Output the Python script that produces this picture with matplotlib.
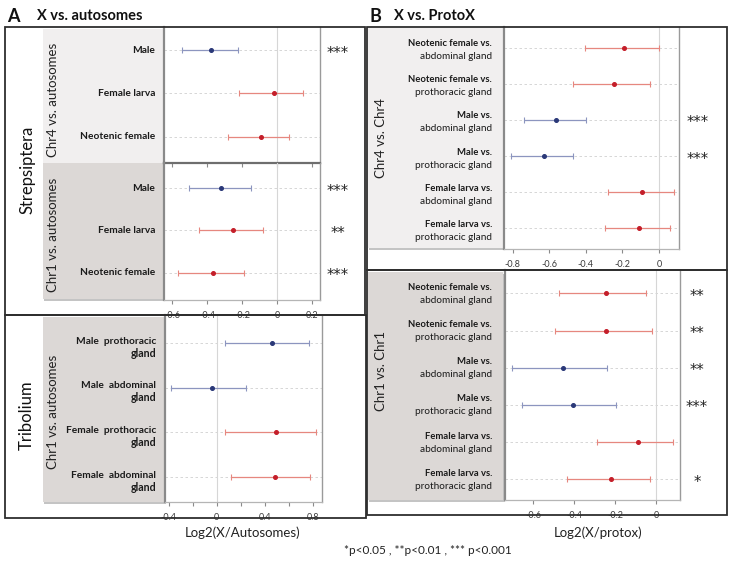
import matplotlib
matplotlib.use('Agg')
import matplotlib.pyplot as plt
from matplotlib.patches import Rectangle
from matplotlib.transforms import blended_transform_factory, offset_copy

plt.rcParams['font.family'] = ['Lato', 'DejaVu Sans']
plt.rcParams['axes.unicode_minus'] = False

# ---------------- data ----------------
a_chr4_labels = ['Male', 'Female larva', 'Neotenic female']
a_chr4_mean = [-0.379, -0.019, -0.095]
a_chr4_low = [-0.546, -0.217, -0.280]
a_chr4_high = [-0.226, 0.149, 0.069]
a_chr4_sex = ['M', 'F', 'F']
a_chr4_sig = ['***', '', '']

a_chr1_labels = ['Male', 'Female larva', 'Neotenic female']
a_chr1_mean = [-0.318, -0.251, -0.367]
a_chr1_low = [-0.503, -0.449, -0.566]
a_chr1_high = [-0.152, -0.080, -0.189]
a_chr1_sex = ['M', 'F', 'F']
a_chr1_sig = ['***', '**', '***']

trib_labels = ['Male  prothoracic\ngland', 'Male  abdominal\ngland',
               'Female  prothoracic\ngland', 'Female  abdominal\ngland']
trib_mean = [0.464, -0.039, 0.497, 0.486]
trib_low = [0.069, -0.383, 0.069, 0.117]
trib_high = [0.772, 0.242, 0.828, 0.778]
trib_sex = ['M', 'M', 'F', 'F']

b_labels = ['Neotenic female vs.\nabdominal gland', 'Neotenic female vs.\nprothoracic gland',
            'Male vs.\nabdominal gland', 'Male vs.\nprothoracic gland',
            'Female larva vs.\nabdominal gland', 'Female larva vs.\nprothoracic gland']
b_sex = ['F', 'F', 'M', 'M', 'F', 'F']

b_chr4_mean = [-0.193, -0.248, -0.562, -0.630, -0.092, -0.107]
b_chr4_low = [-0.407, -0.470, -0.740, -0.808, -0.280, -0.297]
b_chr4_high = [0.000, -0.050, -0.400, -0.470, 0.081, 0.058]
b_chr4_sig = ['', '', '***', '***', '', '']

b_chr1_mean = [-0.245, -0.242, -0.454, -0.404, -0.089, -0.218]
b_chr1_low = [-0.473, -0.494, -0.705, -0.652, -0.288, -0.434]
b_chr1_high = [-0.050, -0.022, -0.239, -0.193, 0.085, -0.027]
b_chr1_sig = ['**', '**', '**', '***', '', '*']

ticks_a_strep = [-0.6, -0.4, -0.2, 0, 0.2]
ticks_a_trib = [-0.4, -0.2, 0, 0.2, 0.4, 0.6, 0.8]
ticklabels_a_trib = ['-0.4', '', '0', '', '0.4', '', '0.8']
ticks_b_chr4 = [-0.8, -0.6, -0.4, -0.2, 0]
ticks_b_chr1 = [-0.6, -0.4, -0.2, 0]

# ---------------- style ----------------
W, H = 733, 562
fig = plt.figure(figsize=(7.33, 5.62), dpi=100)
fig.patch.set_facecolor('white')

LIGHT_BOX = '#f1efef'
DARK_BOX = '#dcd8d6'
LINE_COL = {'M': '#8c95bf', 'F': '#e6877f'}
DOT_COL = {'M': '#2a3878', 'F': '#c41e2a'}

bg = fig.add_axes([0, 0, 1, 1], zorder=0)
bg.set_xlim(0, W)
bg.set_ylim(H, 0)
bg.axis('off')

fg = fig.add_axes([0, 0, 1, 1], zorder=10)
fg.set_xlim(0, W)
fg.set_ylim(H, 0)
fg.axis('off')
fg.patch.set_alpha(0)


def pax(x0, y0, x1, y1):
    return fig.add_axes([x0 / W, 1 - y1 / H, (x1 - x0) / W, (y1 - y0) / H], zorder=2)


def gray_box(x0, y0, x1, y1, color):
    bg.add_patch(Rectangle((x0 + 1, y0 + 2), x1 - x0 + 1, y1 - y0, fc='#c4c4c4', ec='none', zorder=1))
    bg.add_patch(Rectangle((x0, y0), x1 - x0, y1 - y0, fc=color, ec='none', zorder=2))


def frame(x0, y0, x1, y1):
    fg.add_patch(Rectangle((x0, y0), x1 - x0, y1 - y0, fill=False, ec='#2e2e2e', lw=1.3))


def panel(ax, means, lows, highs, sexes, xlim, ylim, ticks, ticklabels=None,
          show_labels=True, dark_bottom=False):
    n = len(means)
    ys = list(range(n))
    for y in ys:
        ax.axhline(y, color='#d0d0d0', ls=(0, (3, 3)), lw=0.6, zorder=0)
    ax.axvline(0, color='#d6d6d6', lw=0.8, zorder=0)
    for y, m, lo, hi, s in zip(ys, means, lows, highs, sexes):
        ax.errorbar([m], [y], xerr=[[m - lo], [hi - m]], fmt='none', ecolor=LINE_COL[s],
                    elinewidth=0.9, capsize=2.5, capthick=0.8, zorder=2)
        ax.plot([m], [y], 'o', ms=2.6, color=DOT_COL[s], zorder=3)
    ax.set_xlim(*xlim)
    ax.set_ylim(*ylim)
    ax.set_yticks([])
    ax.set_xticks(ticks)
    if ticklabels is None:
        ticklabels = ['0' if t == 0 else f'{t:.1f}' for t in ticks]
    ax.set_xticklabels(ticklabels)
    ax.tick_params(axis='x', length=3, color='#8a8a8a', width=0.8, pad=5,
                   labelsize=6.5, labelcolor='#3a3a3a', labelbottom=show_labels)
    ax.patch.set_facecolor('none')
    ax.spines['top'].set_visible(False)
    ax.spines['left'].set_color('#8a8a8a')
    ax.spines['left'].set_linewidth(1.6)
    ax.spines['right'].set_color('#9a9a9a')
    ax.spines['right'].set_linewidth(1.0)
    if dark_bottom:
        ax.spines['bottom'].set_color('#6e6e6e')
        ax.spines['bottom'].set_linewidth(1.6)
    else:
        ax.spines['bottom'].set_color('#b5b5b5')
        ax.spines['bottom'].set_linewidth(0.9)
    return ys


def row_labels(ax, ys, labels, xr, fs=7, two_style=False, up=4, down=8):
    trans = blended_transform_factory(bg.transData, ax.transData)
    for y, lab in zip(ys, labels):
        parts = lab.split('\n')
        if len(parts) == 1:
            ax.text(xr, y, parts[0], transform=trans, ha='right', va='center',
                    fontsize=fs, weight='bold', color='#1a1a1a')
        else:
            t1 = offset_copy(trans, fig=fig, x=0, y=up, units='dots')
            t2 = offset_copy(trans, fig=fig, x=0, y=-down, units='dots')
            ax.text(xr, y, parts[0], transform=t1, ha='right', va='center',
                    fontsize=fs, weight='bold', color='#1a1a1a')
            ax.text(xr, y, parts[1], transform=t2, ha='right', va='center',
                    fontsize=fs + 0.4, weight='bold' if not two_style else 'normal',
                    color='#1a1a1a')


def sig_marks(ax, ys, sigs, xc):
    trans = blended_transform_factory(bg.transData, ax.transData)
    t = offset_copy(trans, fig=fig, x=0, y=-3, units='dots')
    for y, s in zip(ys, sigs):
        if s:
            ax.text(xc, y, s, transform=t, ha='center', va='center', fontsize=10.5,
                    family='DejaVu Sans', color='#222222')


# ---------------- label boxes ----------------
gray_box(43, 29, 163, 163, LIGHT_BOX)
gray_box(43, 163, 163, 299, DARK_BOX)
gray_box(43, 317, 164, 502, DARK_BOX)
gray_box(368, 28, 503, 248, LIGHT_BOX)
gray_box(368, 272, 503, 500, DARK_BOX)

# ---------------- panel A: Strepsiptera ----------------
ax1 = pax(164, 27, 320, 163)
ys = panel(ax1, a_chr4_mean, a_chr4_low, a_chr4_high, a_chr4_sex,
           (-0.646, 0.244), (2.6, -0.53), ticks_a_strep, show_labels=False, dark_bottom=True)
row_labels(ax1, ys, a_chr4_labels, 155, fs=7.3)
sig_marks(ax1, ys, a_chr4_sig, 338)

ax2 = pax(164, 163, 320, 300)
ys = panel(ax2, a_chr1_mean, a_chr1_low, a_chr1_high, a_chr1_sex,
           (-0.646, 0.244), (2.64, -0.59), ticks_a_strep)
row_labels(ax2, ys, a_chr1_labels, 155, fs=7.3)
sig_marks(ax2, ys, a_chr1_sig, 338)

# ---------------- panel A: Tribolium ----------------
ax3 = pax(165, 315, 322, 502)
ys = panel(ax3, trib_mean, trib_low, trib_high, trib_sex,
           (-0.43, 0.877), (3.56, -0.63), ticks_a_trib, ticklabels_a_trib)
row_labels(ax3, ys, trib_labels, 156, fs=7.3, up=2, down=10)

# ---------------- panel B ----------------
ax4 = pax(504, 27, 679, 249)
ys = panel(ax4, b_chr4_mean, b_chr4_low, b_chr4_high, b_sex,
           (-0.848, 0.11), (5.58, -0.58), ticks_b_chr4)
row_labels(ax4, ys, b_labels, 492, fs=6.8, two_style=True, up=4, down=9)
sig_marks(ax4, ys, b_chr4_sig, 698)

ax5 = pax(505, 270, 680, 500)
ys = panel(ax5, b_chr1_mean, b_chr1_low, b_chr1_high, b_sex,
           (-0.737, 0.117), (5.56, -0.63), ticks_b_chr1)
row_labels(ax5, ys, b_labels, 492, fs=6.8, two_style=True, up=6, down=7)
sig_marks(ax5, ys, b_chr1_sig, 697)

# ---------------- frames ----------------
frame(5, 27, 365, 315)
frame(5, 315, 366, 518)
frame(367, 27, 727, 270)
frame(367, 270, 727, 515)

# ---------------- texts ----------------
fg.text(13, 16, 'A', fontsize=13, weight='bold', ha='center', va='center', color='#111')
fg.text(37, 16, 'X vs. autosomes', fontsize=10.5, weight='bold', ha='left', va='center', color='#111')
fg.text(375, 16, 'B', fontsize=13, weight='bold', ha='center', va='center', color='#111')
fg.text(394, 16, 'X vs. ProtoX', fontsize=10.5, weight='bold', ha='left', va='center', color='#111')

fg.text(27, 170, 'Strepsiptera', rotation=90, fontsize=12, ha='center', va='center', color='#111')
fg.text(27, 415, 'Tribolium', rotation=90, fontsize=12, ha='center', va='center', color='#111')
fg.text(53, 100, 'Chr4 vs. autosomes', rotation=90, fontsize=9.5, ha='center', va='center', color='#222')
fg.text(53, 235, 'Chr1 vs. autosomes', rotation=90, fontsize=9.5, ha='center', va='center', color='#222')
fg.text(53, 412, 'Chr1 vs. autosomes', rotation=90, fontsize=9.5, ha='center', va='center', color='#222')
fg.text(381, 138, 'Chr4 vs. Chr4', rotation=90, fontsize=9.5, ha='center', va='center', color='#222')
fg.text(381, 371, 'Chr1 vs. Chr1', rotation=90, fontsize=9.5, ha='center', va='center', color='#222')

fg.text(243, 533, 'Log2(X/Autosomes)', fontsize=9.5, ha='center', va='center', color='#222')
fg.text(598, 533, 'Log2(X/protox)', fontsize=9.5, ha='center', va='center', color='#222')
fg.text(428, 551, '*p<0.05 , **p<0.01 , *** p<0.001', fontsize=8.5, ha='center', va='center', color='#222')

fig.savefig('out.png', dpi=100, facecolor='white')
